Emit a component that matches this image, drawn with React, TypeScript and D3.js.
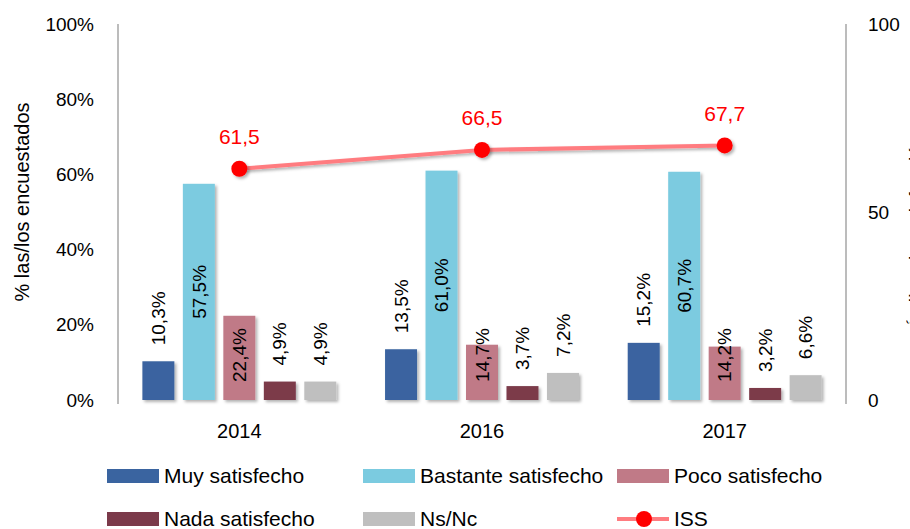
import React, { useEffect, useRef } from 'react';
import * as d3 from 'd3';

const years = ['2014', '2016', '2017'];
const seriesNames = ['Muy satisfecho', 'Bastante satisfecho', 'Poco satisfecho', 'Nada satisfecho', 'Ns/Nc'];
const muy = [10.3, 13.5, 15.2];
const bastante = [57.5, 61.0, 60.7];
const poco = [22.4, 14.7, 14.2];
const nada = [4.9, 3.7, 3.2];
const nsnc = [4.9, 7.2, 6.6];
const iss = [61.5, 66.5, 67.7];
const leftTicks = [0, 20, 40, 60, 80, 100];
const rightTicks = [0, 50, 100];

const colors = ['#3A64A0', '#7BCBE0', '#C07A87', '#7B3A4A', '#BFBFBF'];
// where the value label sits for each series
const labelPos = ['outside', 'center', 'base', 'outside', 'outside'];
const FONT = "'Liberation Sans', Arial, sans-serif";

const fmt = (v: number, d = 1) => v.toFixed(d).replace('.', ',');

export default function App() {
    const svgRef = useRef<SVGSVGElement | null>(null);

    useEffect(() => {
        const width = 910;
        const height = 529;
        const svg = d3.select(svgRef.current);
        svg.selectAll('*').remove();
        svg.attr('width', width).attr('height', height).style('font-family', FONT);

        const left = 118, right = 846, top = 24, bottom = 400;
        const values = [muy, bastante, poco, nada, nsnc];

        const defs = svg.append('defs');
        defs.append('filter').attr('id', 'shadow').attr('x', '-20%').attr('y', '-20%').attr('width', '150%').attr('height', '150%')
            .append('feDropShadow').attr('dx', 2).attr('dy', 2).attr('stdDeviation', 1.5)
            .attr('flood-color', '#000').attr('flood-opacity', 0.3);

        const x = d3.scaleBand().domain(years).range([left, right]).padding(0);
        const groupW = 202;
        const xInner = d3.scaleBand().domain(seriesNames).range([0, groupW]).paddingInner(0.21).paddingOuter(0.1);
        const y = d3.scaleLinear().domain([0, 100]).range([bottom, top]);
        const y2 = d3.scaleLinear().domain([0, 100]).range([bottom, top]);

        // axes lines
        svg.append('line').attr('x1', left).attr('x2', left).attr('y1', top).attr('y2', bottom + 4)
            .attr('stroke', '#A6A6A6').attr('stroke-width', 1.5);
        svg.append('line').attr('x1', right).attr('x2', right).attr('y1', top).attr('y2', bottom + 4)
            .attr('stroke', '#A6A6A6').attr('stroke-width', 1.5);

        // left ticks
        svg.selectAll('.ltick').data(leftTicks).enter().append('text')
            .attr('x', 94).attr('y', d => y(d)).attr('dy', '0.35em')
            .attr('text-anchor', 'end').attr('font-size', 19).attr('fill', '#000')
            .text(d => `${d}%`);

        // right ticks
        svg.selectAll('.rtick').data(rightTicks).enter().append('text')
            .attr('x', 868).attr('y', d => y2(d)).attr('dy', '0.35em')
            .attr('text-anchor', 'start').attr('font-size', 19).attr('fill', '#000')
            .text(d => `${d}`);

        // axis titles
        svg.append('text').attr('transform', 'translate(29,202) rotate(-90)')
            .attr('text-anchor', 'middle').attr('font-size', 20).attr('fill', '#000')
            .text('%  las/los encuestados');
        svg.append('text').attr('transform', 'translate(924,230) rotate(-90)')
            .attr('text-anchor', 'middle').attr('font-size', 20).attr('fill', '#000')
            .text('Índice de satisfacción');

        // bars
        seriesNames.forEach((name, si) => {
            const g = svg.append('g');
            const data = years.map((yr, i) => ({ yr, v: values[si][i] }));
            const bx = (yr: string) => (x(yr) ?? 0) + x.bandwidth() / 2 - groupW / 2 + (xInner(name) ?? 0);
            g.selectAll('rect').data(data).enter().append('rect')
                .attr('x', d => bx(d.yr))
                .attr('y', d => y(d.v))
                .attr('width', xInner.bandwidth())
                .attr('height', d => bottom - y(d.v))
                .attr('fill', colors[si])
                .attr('filter', 'url(#shadow)');

            g.selectAll('text').data(data).enter().append('text')
                .attr('transform', d => {
                    const cx = bx(d.yr) + xInner.bandwidth() / 2;
                    let ty = y(d.v) - 16;
                    if (labelPos[si] === 'center') ty = (y(d.v) + bottom) / 2;
                    if (labelPos[si] === 'base') ty = bottom - 18;
                    return `translate(${cx},${ty}) rotate(-90)`;
                })
                .attr('dy', '0.35em')
                .attr('text-anchor', labelPos[si] === 'center' ? 'middle' : 'start')
                .attr('font-size', 19).attr('fill', '#000')
                .text(d => `${fmt(d.v)}%`);
        });

        // year labels
        svg.selectAll('.year').data(years).enter().append('text')
            .attr('x', d => (x(d) ?? 0) + x.bandwidth() / 2).attr('y', 431).attr('dy', '0.35em')
            .attr('text-anchor', 'middle').attr('font-size', 20).attr('fill', '#000')
            .text(d => d);

        // ISS line
        const issData = years.map((yr, i) => ({ yr, v: iss[i] }));
        const line = d3.line<{ yr: string; v: number }>()
            .x(d => (x(d.yr) ?? 0) + x.bandwidth() / 2)
            .y(d => y2(d.v));
        svg.append('path').datum(issData).attr('d', line)
            .attr('fill', 'none').attr('stroke', '#FF7C80').attr('stroke-width', 4)
            .attr('filter', 'url(#shadow)');
        svg.selectAll('.dot').data(issData).enter().append('circle')
            .attr('cx', d => (x(d.yr) ?? 0) + x.bandwidth() / 2).attr('cy', d => y2(d.v))
            .attr('r', 8).attr('fill', '#FF0000').attr('filter', 'url(#shadow)');
        svg.selectAll('.isslabel').data(issData).enter().append('text')
            .attr('x', d => (x(d.yr) ?? 0) + x.bandwidth() / 2).attr('y', d => y2(d.v) - 32).attr('dy', '0.35em')
            .attr('text-anchor', 'middle').attr('font-size', 21).attr('fill', '#FF0000')
            .text(d => fmt(d.v));

        // legend
        const legendItems = [
            { name: seriesNames[0], col: 0, row: 0, kind: 'bar', color: colors[0] },
            { name: seriesNames[1], col: 1, row: 0, kind: 'bar', color: colors[1] },
            { name: seriesNames[2], col: 2, row: 0, kind: 'bar', color: colors[2] },
            { name: seriesNames[3], col: 0, row: 1, kind: 'bar', color: colors[3] },
            { name: seriesNames[4], col: 1, row: 1, kind: 'bar', color: colors[4] },
            { name: 'ISS', col: 2, row: 1, kind: 'line', color: '#FF0000' },
        ];
        const colX = [107, 363, 617];
        const rowY = [476, 519];
        legendItems.forEach(item => {
            const lx = colX[item.col];
            const ly = rowY[item.row];
            const g = svg.append('g');
            if (item.kind === 'bar') {
                g.append('rect').attr('x', lx).attr('y', ly - 7).attr('width', 52).attr('height', 14)
                    .attr('fill', item.color);
            } else {
                g.append('line').attr('x1', lx).attr('x2', lx + 52).attr('y1', ly).attr('y2', ly)
                    .attr('stroke', '#FF7C80').attr('stroke-width', 4);
                g.append('circle').attr('cx', lx + 27).attr('cy', ly).attr('r', 8).attr('fill', '#FF0000');
            }
            g.append('text').attr('x', lx + 57).attr('y', ly).attr('dy', '0.35em')
                .attr('font-size', 21).attr('fill', '#000').text(item.name);
        });
    }, []);

    return (
        <div style={{ position: 'absolute', left: 0, top: 0, background: '#fff' }}>
            <svg ref={svgRef} style={{ display: 'block' }}></svg>
        </div>
    );
}
